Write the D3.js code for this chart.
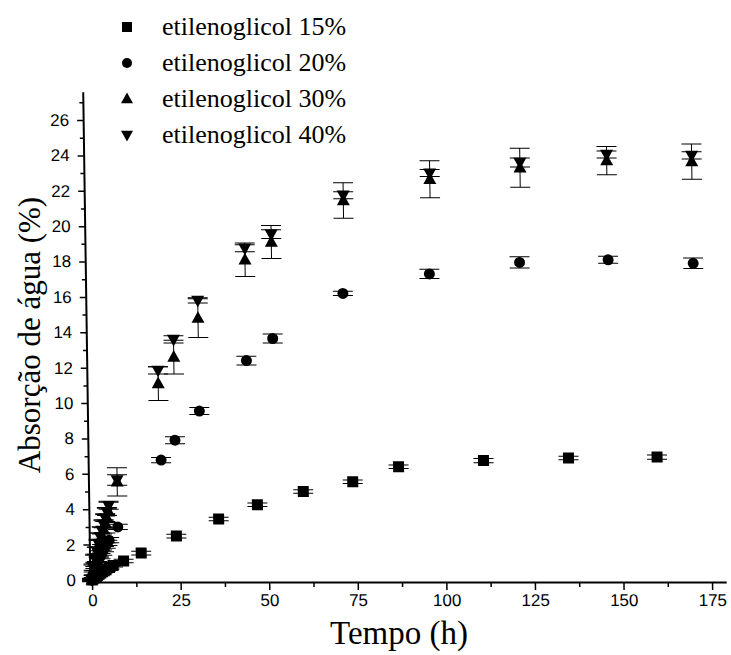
<!DOCTYPE html>
<html>
<head>
<meta charset="utf-8">
<script src="https://cdn.jsdelivr.net/npm/d3@7/dist/d3.min.js"></script>
<style>
  html, body { margin: 0; padding: 0; background: #fff; }
  svg { display: block; }
</style>
</head>
<body>
<script>
// Water absorption (%) over time (h) for four ethylene glycol contents.
const seriesNames = ["etilenoglicol 15%", "etilenoglicol 20%", "etilenoglicol 30%", "etilenoglicol 40%"];

const time15 = [0, 0.5, 1, 1.5, 2, 2.5, 3, 3.5, 4, 5, 6, 9, 14, 24, 36, 47, 60, 74, 87, 111, 135, 160];
const abs15  = [0, 0.1, 0.18, 0.25, 0.32, 0.4, 0.46, 0.52, 0.58, 0.7, 0.82, 1.07, 1.52, 2.48, 3.45, 4.25, 5.0, 5.55, 6.4, 6.75, 6.9, 6.95];
const err15  = [0.02, 0.04, 0.05, 0.05, 0.06, 0.06, 0.06, 0.07, 0.07, 0.08, 0.08, 0.1, 0.1, 0.1, 0.1, 0.1, 0.1, 0.1, 0.1, 0.12, 0.1, 0.12];

const time20 = [0, 0.5, 1, 1.5, 2, 2.5, 3, 3.5, 4, 4.5, 5, 7.5, 20, 24, 31, 44.5, 52, 72, 96.5, 122, 147, 171];
const abs20  = [0, 0.35, 0.65, 0.9, 1.15, 1.35, 1.55, 1.75, 1.95, 2.1, 2.25, 3.0, 6.78, 7.9, 9.55, 12.4, 13.65, 16.2, 17.3, 17.95, 18.1, 17.9];
const err20  = [0.05, 0.1, 0.12, 0.12, 0.15, 0.15, 0.15, 0.15, 0.15, 0.15, 0.15, 0.15, 0.15, 0.2, 0.2, 0.25, 0.25, 0.12, 0.26, 0.32, 0.2, 0.3];

const time30 = [0, 0.5, 1, 1.5, 2, 2.5, 3, 3.5, 4, 4.5, 5, 7.5, 19.5, 24, 31, 44.5, 52, 72.5, 97, 122.5, 147, 171];
const abs30  = [0, 0.6, 1.05, 1.45, 1.8, 2.15, 2.5, 2.85, 3.2, 3.5, 3.85, 5.55, 11.1, 12.6, 14.8, 18.1, 19.1, 21.45, 22.65, 23.3, 23.7, 23.65];
const err30  = [0.1, 0.3, 0.4, 0.4, 0.5, 0.5, 0.5, 0.55, 0.55, 0.6, 0.6, 0.8, 0.95, 0.95, 1.1, 0.95, 0.93, 1.0, 1.05, 1.1, 0.8, 1.0];

const time40 = [0, 0.5, 1, 1.5, 2, 2.5, 3, 3.5, 4, 4.5, 5, 7.5, 19.5, 24, 31, 44.5, 52, 72.5, 97, 122.5, 147, 171];
const abs40  = [0, 0.7, 1.2, 1.65, 2.05, 2.45, 2.8, 3.15, 3.5, 3.85, 4.2, 5.65, 11.85, 13.6, 15.8, 18.75, 19.55, 21.75, 23.0, 23.6, 24.05, 24.0];
const err40  = [0.05, 0.15, 0.2, 0.2, 0.2, 0.2, 0.2, 0.2, 0.2, 0.2, 0.2, 0.3, 0.2, 0.2, 0.15, 0.2, 0.25, 0.2, 0.2, 0.25, 0.2, 0.2];

const xMajorTicks = [0, 25, 50, 75, 100, 125, 150, 175];
const xMinorTicks = [12.5, 37.5, 62.5, 87.5, 112.5, 137.5, 162.5];
const yMajorTicks = [0, 2, 4, 6, 8, 10, 12, 14, 16, 18, 20, 22, 24, 26];
const yMinorTicks = [1, 3, 5, 7, 9, 11, 13, 15, 17, 19, 21, 23, 25, 27];

const xTitle = "Tempo (h)";
const yTitle = "Absorção de água (%)";

const W = 731, H = 655;
const X0 = 92, X175 = 712, Y0 = 580, Y26 = 120;
const pxX = (X175 - X0) / 175, pxY = (Y0 - Y26) / 26;

const x = d3.scaleLinear().domain([-0.6, 179]).range([X0 - 0.6 * pxX, X0 + 179 * pxX]);
const y = d3.scaleLinear().domain([-0.12, 27.6]).range([Y0 + 0.12 * pxY, Y0 - 27.6 * pxY]);

const svg = d3.select("body").append("svg").attr("width", W).attr("height", H)
  .style("background", "#fff");

// plot area, slightly skewed like a scanned page
const plot = svg.append("g")
  .attr("transform", `translate(0,${Y0}) skewX(0.84) translate(0,${-Y0})`);

const tickFont = "'Liberation Sans', Arial, sans-serif";
const serif = "'Liberation Serif', 'Times New Roman', serif";

// X axis
const xAxisG = plot.append("g").attr("transform", `translate(0,${y(-0.12)})`);
xAxisG.call(d3.axisBottom(x).tickValues(xMajorTicks).tickSize(8).tickSizeOuter(0).tickPadding(4).tickFormat(d3.format("d")));
xAxisG.append("g").call(d3.axisBottom(x).tickValues(xMinorTicks).tickSize(5).tickSizeOuter(0).tickFormat(""))
  .select(".domain").remove();

// Y axis
const yAxisG = plot.append("g").attr("transform", `translate(${x(-0.6)},0)`);
yAxisG.call(d3.axisLeft(y).tickValues(yMajorTicks).tickSize(6).tickSizeOuter(0).tickPadding(8).tickFormat(d3.format("d")));
yAxisG.append("g").call(d3.axisLeft(y).tickValues(yMinorTicks).tickSize(3.5).tickSizeOuter(0).tickFormat(""))
  .select(".domain").remove();

plot.selectAll(".domain").attr("stroke", "#000").attr("stroke-width", 2);
plot.selectAll(".tick line").attr("stroke", "#000").attr("stroke-width", 1.5);
plot.selectAll(".tick text").attr("fill", "#000")
  .style("font-family", tickFont).style("font-size", "17px");

// series drawing
const series = [
  { t: time15, v: abs15, e: err15, shape: "square" },
  { t: time20, v: abs20, e: err20, shape: "circle" },
  { t: time30, v: abs30, e: err30, shape: "up" },
  { t: time40, v: abs40, e: err40, shape: "down" }
];

function markerPath(shape, cx, cy, s) {
  if (shape === "square") {
    const h = s / 2;
    return `M${cx - h},${cy - h}h${s}v${s}h${-s}Z`;
  }
  if (shape === "circle") {
    const r = s / 2;
    return `M${cx - r},${cy}a${r},${r} 0 1,0 ${2 * r},0a${r},${r} 0 1,0 ${-2 * r},0Z`;
  }
  const h = s * 0.5, tri = s * 0.9;
  if (shape === "up") {
    return `M${cx},${cy - tri * 0.6}L${cx + h},${cy + tri * 0.4}L${cx - h},${cy + tri * 0.4}Z`;
  }
  return `M${cx},${cy + tri * 0.6}L${cx + h},${cy - tri * 0.4}L${cx - h},${cy - tri * 0.4}Z`;
}

const markerSize = { square: 11, circle: 11, up: 13, down: 13 };
const capHalf = 10;

series.forEach(s => {
  const pts = s.t.map((t, i) => ({ t, v: s.v[i], e: s.e[i] }));
  const g = plot.append("g");
  const eb = g.append("g").attr("stroke", "#000").attr("stroke-width", 1).attr("fill", "none");
  eb.selectAll("path").data(pts).join("path")
    .attr("d", d => {
      const cx = x(d.t), top = y(d.v + d.e), bot = y(d.v - d.e);
      return `M${cx},${top}V${bot}M${cx - capHalf},${top}H${cx + capHalf}M${cx - capHalf},${bot}H${cx + capHalf}`;
    });
  g.append("g").selectAll("path").data(pts).join("path")
    .attr("d", d => markerPath(s.shape, x(d.t), y(d.v), markerSize[s.shape]))
    .attr("fill", "#000");
});

// axis titles
svg.append("text")
  .attr("x", 399).attr("y", 644)
  .attr("text-anchor", "middle")
  .style("font-family", serif).style("font-size", "33px")
  .text(xTitle);

svg.append("text")
  .attr("transform", "translate(40,335) rotate(-90)")
  .attr("text-anchor", "middle")
  .style("font-family", serif).style("font-size", "31px")
  .text(yTitle);

// legend
const legend = svg.append("g");
const legendRows = [27, 63, 99, 135];
const legendShapes = ["square", "circle", "up", "down"];
const legendSizes = { square: 10, circle: 10, up: 12, down: 12 };
seriesNames.forEach((name, i) => {
  legend.append("path")
    .attr("d", markerPath(legendShapes[i], 127, legendRows[i], legendSizes[legendShapes[i]]))
    .attr("fill", "#000");
  legend.append("text")
    .attr("x", 162).attr("y", legendRows[i] + 8)
    .style("font-family", serif).style("font-size", "26px")
    .text(name);
});
</script>
</body>
</html>
